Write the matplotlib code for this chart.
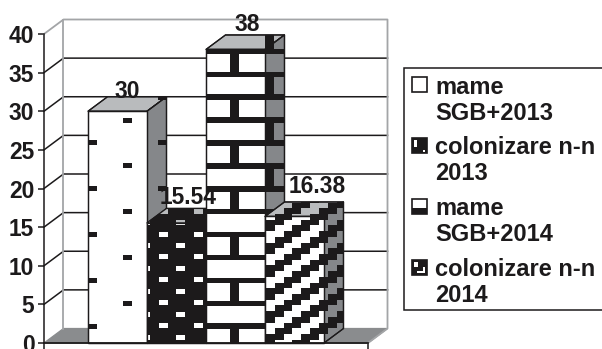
import matplotlib
matplotlib.use("Agg")
import matplotlib.pyplot as plt
from matplotlib.collections import PolyCollection
from matplotlib.legend_handler import HandlerBase
from matplotlib.patches import Polygon, Rectangle
from matplotlib.transforms import Affine2D

series_names = ["mame\nSGB+2013", "colonizare n-n\n2013", "mame\nSGB+2014", "colonizare n-n\n2014"]
series_values = [30, 15.54, 38, 16.38]
y_ticks = [0, 5, 10, 15, 20, 25, 30, 35, 40]

plt.rcParams["font.family"] = ["Liberation Sans", "DejaVu Sans"]
plt.rcParams["font.weight"] = "bold"

W, H = 602, 349
INK = "#1c1a1b"
FRAME = "#a3a5a7"
FLOOR = "#8a8c8e"
TOP = "#b9bbbd"
SIDE = "#85878a"
PT = 0.72  # points per image pixel at 100 dpi

fig = plt.figure(figsize=(W / 100, H / 100), dpi=100, facecolor="white")
ax = fig.add_axes([44 / W, 6 / H, 324 / W, 309 / H])
ax.set_xlim(-1.246, 4.246)
ax.set_ylim(0, 40)
ax.patch.set_visible(False)

# Oblique depth of the 3D box, expressed in data units
DX = 19.5 / 59
DY = 14.5 / 7.725
X0, X1 = ax.get_xlim()


def face(points, color, z, edge=INK, lw=0.9):
    patch = Polygon(points, closed=True, facecolor=color, edgecolor=edge,
                    linewidth=lw, zorder=z, clip_on=False, joinstyle="round")
    ax.add_patch(patch)
    return patch


# Floor and back wall of the box
face([(X0, 0), (X0 + DX, DY), (X1 + DX, DY), (X1, 0)], FLOOR, 1, edge=FLOOR)
for tick in y_ticks[1:-1]:
    ax.plot([X0, X0 + DX, X1 + DX], [tick, tick + DY, tick + DY], color=INK,
            lw=1.1, zorder=2, clip_on=False, solid_joinstyle="miter")
ax.plot([X0, X0 + DX, X1 + DX, X1 + DX, X1], [40, 40 + DY, 40 + DY, DY, 0],
        color=FRAME, lw=1.3, zorder=2, clip_on=False)
ax.plot([X0 + DX, X0 + DX], [DY, 40 + DY], color=FRAME, lw=1.3, zorder=2, clip_on=False)


# Fill patterns, laid out in image pixels so they run continuously across faces
def rect(x, y, w, h):
    return [(x, y), (x + w, y), (x + w, y + h), (x, y + h)]


def pattern_sparse():
    out = []
    for i in range(-1, 5):
        for j in range(-1, 11):
            if (i + j) % 2:
                out.append(rect(92 + 35.3 * i - 4.5, 120 + 22.9 * j - 2.5, 9, 5))
    return out


def pattern_dots():
    out = []
    for i in range(-2, 8):
        for j in range(-4, 12):
            if (i + j) % 2 == 0:
                out.append(rect(163 + 17.65 * i - 4.5, 234 + 11.45 * j - 2.5, 9, 5))
    return out


def pattern_brick():
    out = []
    for j in range(-3, 14):
        y = 74.3 + 22.9 * j
        out.append(rect(190, y - 2.8, 110, 5.6))
        vx = 230 if j % 2 else 265
        out.append(rect(vx, y, 8.6, 22.9))
    return out


def pattern_stairs():
    out = []
    cw, ch = 8.83, 5.72
    for i in range(-2, 14):
        for j in range(30, 62):
            if (i + j + 2) % 4 < 2:
                out.append(rect(266 + cw * i, 2.3 + ch * j, cw, ch))
    return out


patterns = [pattern_sparse(), pattern_dots(), pattern_brick(), pattern_stairs()]
inverted = [False, True, False, False]
pixel_space = Affine2D().scale(1, -1).translate(0, H)


def pattern_face(points, color, tiles, invert, z):
    base, ink = (INK, color) if invert else (color, INK)
    patch = face(points, base, z)
    tiles_art = PolyCollection(tiles, facecolors=ink, edgecolors="none",
                               transform=pixel_space, zorder=z)
    ax.add_collection(tiles_art, autolim=False)
    tiles_art.set_clip_path(patch)
    outline = Polygon(points, closed=True, fill=False, edgecolor=INK, linewidth=0.9,
                      zorder=z, clip_on=False)
    ax.add_patch(outline)


label_shift = [(0, -6), (2, -1), (2, -1), (13, 4)]
for k, value in enumerate(series_values):
    left, right = k - 0.5, k + 0.5
    z = 10 + k
    pattern_face([(left, value), (left + DX, value + DY), (right + DX, value + DY), (right, value)],
                 TOP, patterns[k], inverted[k], z)
    pattern_face([(right, 0), (right + DX, DY), (right + DX, value + DY), (right, value)],
                 SIDE, patterns[k], inverted[k], z)
    pattern_face([(left, 0), (right, 0), (right, value), (left, value)],
                 "white", patterns[k], inverted[k], z)
    sx, sy = label_shift[k]
    ax.annotate(f"{value:g}", (k + DX / 2, value + DY), xytext=(sx * PT, sy * PT),
                textcoords="offset points", ha="center", va="bottom", fontsize=16.4,
                color=INK, zorder=30, annotation_clip=False)

# Axes: only the front-left edge and the floor edge carry ticks
for name in ("top", "right"):
    ax.spines[name].set_visible(False)
ax.spines["left"].set_color(INK)
ax.spines["left"].set_linewidth(1.1)
ax.spines["left"].set_zorder(3)
ax.spines["bottom"].set_color(INK)
ax.spines["bottom"].set_linewidth(1.3)
ax.spines["bottom"].set_zorder(40)
ax.set_yticks(y_ticks)
ax.set_xticks([X0, X1])
ax.set_xticklabels([])
ax.tick_params(axis="y", length=4, width=1.1, color=INK, labelsize=16.4, labelcolor=INK, pad=3)
ax.tick_params(axis="x", length=5, width=1.1, color=INK)


# Miniature swatches for the legend entries
class Swatch:
    def __init__(self, kind):
        self.kind = kind


class SwatchHandler(HandlerBase):
    def create_artists(self, legend, orig, xd, yd, width, height, fontsize, trans):
        s = 15 * PT
        x, y = -xd, -yd + SWATCH_LIFT

        def box(dx, dy, w, h, color):
            return Rectangle((x + dx * PT, y + dy * PT), w * PT, h * PT, facecolor=color,
                             edgecolor="none", transform=trans)

        outer = Rectangle((x, y), s, s, facecolor="white", edgecolor=INK, lw=1.2, transform=trans)
        shapes = [outer]
        if orig.kind == 1:
            outer.set_facecolor(INK)
            shapes += [box(2.5, 6, 3, 7, "white"), box(11, 1.5, 2, 1.5, "white")]
        elif orig.kind == 2:
            shapes.append(box(0, 0, 15, 6, INK))
        elif orig.kind == 3:
            outer.set_facecolor(INK)
            shapes += [box(2, 8, 4, 5.5, "white"), box(5, 2.5, 8, 1.5, "white"), box(11.5, 2.5, 1.5, 6, "white")]
        return shapes


# Legend frame runs past the right edge of the figure
fig.add_artist(Rectangle((404 / W, 1 - 310 / H), 210 / W, 242 / H, transform=fig.transFigure,
                         facecolor="white", edgecolor=INK, linewidth=1.1, zorder=4))

SWATCH_LIFT = 12
handles = [Swatch(i) for i in range(4)]
leg = fig.legend(handles, series_names, handler_map={Swatch: SwatchHandler()},
                 loc="upper left", bbox_to_anchor=(404 / W, 1 - 68 / H), bbox_transform=fig.transFigure,
                 prop={"size": 17, "weight": "bold"}, labelcolor=INK,
                 frameon=False, borderaxespad=0,
                 borderpad=0.32, handlelength=0.75, handletextpad=0.25, labelspacing=0.5)
leg.set_zorder(5)
for text in leg.get_texts():
    text.set_linespacing(1.17)

fig.savefig("out.png", dpi=100, facecolor="white")
